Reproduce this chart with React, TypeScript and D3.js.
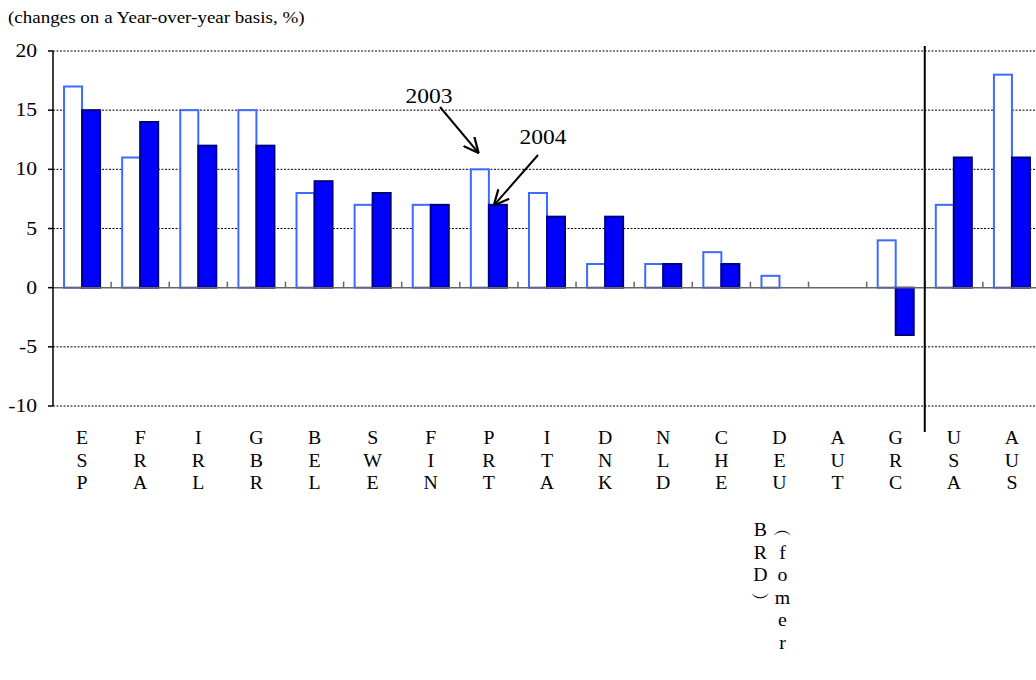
import React from "react";
import * as d3 from "d3";

const categories = ["ESP","FRA","IRL","GBR","BEL","SWE","FIN","PRT","ITA","DNK","NLD","CHE","DEU","AUT","GRC","USA","AUS"];
const series = ["2003","2004"];
const values2003: (number | null)[] = [17,11,15,15,8,7,7,10,8,2,2,3,1,null,4,7,18];
const values2004: (number | null)[] = [15,14,12,12,9,8,7,7,6,6,2,2,null,null,-4,11,11];
const yTicks = [20,15,10,5,0,-5,-10];
const title = "(changes on a Year-over-year basis, %)";
const deuExtraCol1 = ["B", "R", "D", "\uFE36"];
const deuExtraCol2 = ["\uFE35", "f", "o", "m", "e", "r"];

const W = 1036, H = 680;
const left = 53, right = 1041, top = 51, bottom = 406;
const FONT = "'Liberation Serif', 'Times New Roman', serif";

function T(props: { x: number; y: number; size: number; sx: number; anchor?: string; children: React.ReactNode }) {
  const { x, y, size, sx, anchor, children } = props;
  return (
    <text transform={`translate(${x},${y}) scale(${sx},1)`} fontSize={size} textAnchor={anchor || "start"}>{children}</text>
  );
}

export default function App() {
  const x = d3.scaleBand<string>().domain(categories).range([left, right]).padding(0);
  const bw = x.bandwidth();
  const xs = d3.scaleBand<string>().domain(series).range([bw * 0.19, bw * 0.81]).padding(0);
  const y = d3.scaleLinear().domain([-10, 20]).range([bottom, top]);
  const y0 = y(0);
  const sep = x("USA") as number;

  const bars: React.ReactElement[] = [];
  categories.forEach((c, i) => {
    const v3 = values2003[i];
    const v4 = values2004[i];
    if (v3 !== null) {
      const bx = (x(c) as number) + (xs("2003") as number);
      bars.push(<rect key={c + "a"} x={bx} y={Math.min(y(v3), y0)} width={xs.bandwidth()} height={Math.abs(y(v3) - y0)} fill="#ffffff" stroke="#3d6bff" strokeWidth={2} />);
    }
    if (v4 !== null) {
      const bx = (x(c) as number) + (xs("2004") as number);
      bars.push(<rect key={c + "b"} x={bx} y={Math.min(y(v4), y0)} width={xs.bandwidth()} height={Math.abs(y(v4) - y0)} fill="#0000ff" stroke="#000080" strokeWidth={2} />);
    }
  });

  const prt = categories.indexOf("PRT");
  const p3x = (x("PRT") as number) + (xs("2003") as number) + xs.bandwidth() * 0.4;
  const p3y = y(values2003[prt] as number) - 17;
  const p4x = (x("PRT") as number) + (xs("2004") as number) + xs.bandwidth() * 0.3;
  const p4y = y(values2004[prt] as number);

  const letterStep = 22.5;
  const labelY0 = 444;
  const LS = 18, LSX = 1.1;

  return (
    <svg width={W} height={H} style={{ position: "absolute", left: 0, top: 0 }} fontFamily={FONT}>
      <defs>
        <marker id="ah" viewBox="0 0 10 10" refX="9" refY="5" markerWidth="8" markerHeight="8" orient="auto-start-reverse">
          <path d="M0,0.5 L9.5,5 L0,9.5" fill="none" stroke="#000" strokeWidth="1.4" />
        </marker>
      </defs>
      <T x={8} y={23} size={17} sx={1.12}>{title}</T>
      {yTicks.filter(t => t !== 0).map(t => (
        <line key={"g" + t} x1={left} x2={W} y1={y(t)} y2={y(t)} stroke="#000" strokeWidth={1} strokeDasharray="2,1.5" />
      ))}
      {bars}
      <line x1={left} x2={W} y1={y0} y2={y0} stroke="#666" strokeWidth={1.5} />
      {categories.slice(1).map(c => (
        <line key={"t" + c} x1={x(c) as number} x2={x(c) as number} y1={y0} y2={y0 - 6} stroke="#666" strokeWidth={1.5} />
      ))}
      <line x1={left} x2={left} y1={top} y2={bottom} stroke="#000" strokeWidth={1.5} />
      {yTicks.map(t => (
        <g key={"yt" + t}>
          <line x1={left - 5} x2={left} y1={y(t)} y2={y(t)} stroke="#000" strokeWidth={1.5} />
          <T x={37} y={y(t) + 6} size={18} sx={1.2} anchor="end">{t}</T>
        </g>
      ))}
      <line x1={sep} x2={sep} y1={46} y2={432} stroke="#000" strokeWidth={2} />
      {categories.map(c => {
        const cx = (x(c) as number) + bw / 2;
        return (
          <g key={"l" + c}>
            {c.split("").map((ch, j) => (
              <T key={j} x={cx} y={labelY0 + j * letterStep} size={LS} sx={LSX} anchor="middle">{ch}</T>
            ))}
          </g>
        );
      })}
      {(() => {
        const cx = (x("DEU") as number) + bw / 2;
        const base = labelY0 + 4 * letterStep + 2;
        return (
          <g>
            {deuExtraCol1.map((ch, j) => (
              <T key={"a" + j} x={cx - 19} y={base + j * letterStep} size={LS} sx={LSX} anchor="middle">{ch}</T>
            ))}
            {deuExtraCol2.map((ch, j) => (
              <T key={"b" + j} x={cx + 3} y={base + j * letterStep} size={LS} sx={LSX} anchor="middle">{ch}</T>
            ))}
          </g>
        );
      })()}
      <T x={429} y={103} size={21} sx={1.12} anchor="middle">2003</T>
      <line x1={440} y1={107} x2={p3x} y2={p3y} stroke="#000" strokeWidth={2} markerEnd="url(#ah)" />
      <T x={543} y={144} size={21} sx={1.12} anchor="middle">2004</T>
      <line x1={538} y1={155} x2={p4x} y2={p4y} stroke="#000" strokeWidth={2} markerEnd="url(#ah)" />
    </svg>
  );
}
